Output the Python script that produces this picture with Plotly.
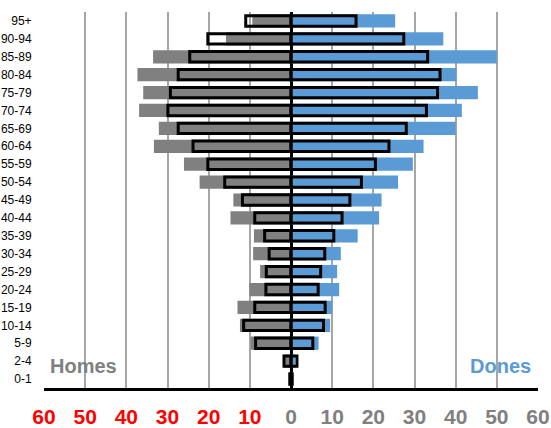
import plotly.graph_objects as go

# Age groups, top to bottom
age_groups = ["95+", "90-94", "85-89", "80-84", "75-79", "70-74", "65-69", "60-64",
              "55-59", "50-54", "45-49", "40-44", "35-39", "30-34", "25-29", "20-24",
              "15-19", "10-14", "5-9", "2-4", "0-1"]

# Men (filled grey bars) and reference men (black outline)
homes_fill = [9.4, 15.8, 33.5, 37.3, 35.9, 36.9, 32.1, 33.3, 26.0, 22.2, 14.0, 14.7,
              9.0, 9.2, 7.5, 10.1, 13.0, 12.4, 9.8, 1.7, 0.3]
homes_outline = [11.0, 20.2, 24.6, 27.4, 29.3, 29.9, 27.4, 23.8, 20.2, 16.1, 11.8, 8.8,
                 6.4, 5.3, 6.0, 6.1, 8.8, 11.5, 8.6, 1.7, 0.3]

# Women (filled blue bars) and reference women (black outline)
dones_fill = [25.3, 37.0, 50.0, 40.2, 45.4, 41.5, 40.0, 32.2, 29.6, 26.0, 22.0, 21.4,
              16.2, 12.1, 11.2, 11.7, 10.0, 9.5, 6.7, 1.0, 0.5]
dones_outline = [15.8, 27.4, 33.2, 36.2, 35.6, 32.9, 28.0, 23.8, 20.5, 17.1, 14.3, 12.4,
                 10.4, 8.2, 7.2, 6.6, 8.3, 7.9, 5.3, 1.45, 0.3]

tick_values = [-60, -50, -40, -30, -20, -10, 0, 10, 20, 30, 40, 50, 60]

GREY = "#808080"
BLUE = "#5B9BD5"
RED = "#FF0000"
FONT = "Arial, Liberation Sans, sans-serif"

fig = go.Figure()

fig.add_trace(go.Bar(y=age_groups, x=[-v for v in homes_fill], orientation="h",
                     width=0.74, marker=dict(color=GREY, line=dict(width=0)),
                     name="Homes"))
fig.add_trace(go.Bar(y=age_groups, x=dones_fill, orientation="h",
                     width=0.74, marker=dict(color=BLUE, line=dict(width=0)),
                     name="Dones"))
fig.add_trace(go.Bar(y=age_groups, x=[-v for v in homes_outline], orientation="h",
                     width=0.58, marker=dict(color="rgba(0,0,0,0)",
                                             line=dict(color="black", width=3)),
                     name="Homes ref"))
fig.add_trace(go.Bar(y=age_groups, x=dones_outline, orientation="h",
                     width=0.58, marker=dict(color="rgba(0,0,0,0)",
                                             line=dict(color="black", width=3)),
                     name="Dones ref"))

tick_text = []
for v in tick_values:
    if v < 0:
        tick_text.append(f"<span style='color:{RED}'>{abs(v)}</span>")
    else:
        tick_text.append(str(v))

fig.update_layout(
    width=551, height=428,
    margin=dict(l=44, r=13, t=12, b=40),
    barmode="overlay",
    showlegend=False,
    plot_bgcolor="white",
    paper_bgcolor="white",
    xaxis=dict(
        range=[-60, 60],
        automargin=False,
        tickmode="array", tickvals=tick_values, ticktext=tick_text,
        tickfont=dict(family=FONT, size=21, color=GREY, weight="bold"),
        ticks="outside", ticklen=8, tickcolor="rgba(0,0,0,0)",
        showgrid=True, gridcolor="#A6A6A6", gridwidth=1.5,
        zeroline=True, zerolinecolor="black", zerolinewidth=2.5,
        showline=True, linecolor="black", linewidth=2.5,
        fixedrange=True,
    ),
    yaxis=dict(
        autorange="reversed",
        automargin=False,
        tickfont=dict(family=FONT, size=12, color="black"),
        ticks="outside", ticklen=9, tickcolor="rgba(0,0,0,0)",
        showgrid=False, zeroline=False, showline=False,
        fixedrange=True,
    ),
    annotations=[
        dict(text="<b>Homes</b>", x=-50.5, y=0.0585, xref="x", yref="paper",
             xanchor="center", yanchor="middle",
             showarrow=False, font=dict(family=FONT, size=20, color=GREY)),
        dict(text="<b>Dones</b>", x=51.0, y=0.0585, xref="x", yref="paper",
             xanchor="center", yanchor="middle",
             showarrow=False, font=dict(family=FONT, size=20, color=BLUE)),
    ],
)

fig.write_html("out.html")
